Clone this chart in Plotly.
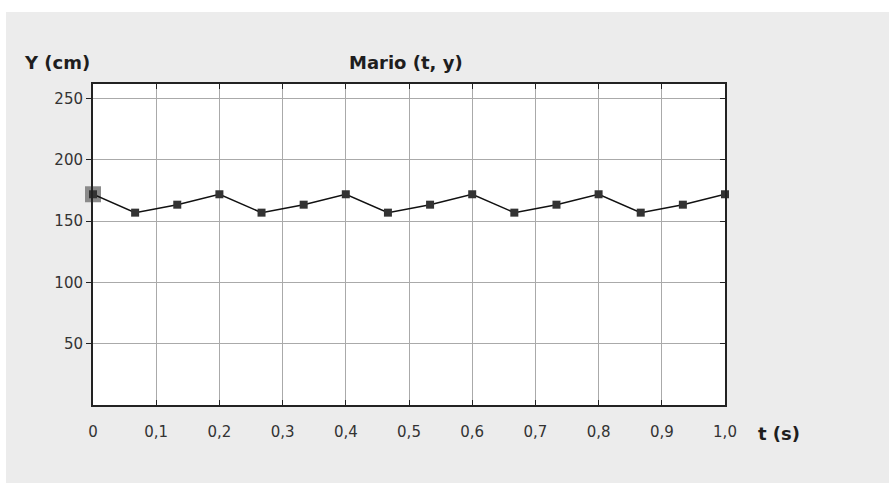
import plotly.graph_objects as go

t_values = [i / 15 for i in range(16)]
y_values = [172, 157, 163.5, 172, 157, 163.5, 172, 157, 163.5, 172, 157, 163.5, 172, 157, 163.5, 172]
x_tickvals = [0, 0.1, 0.2, 0.3, 0.4, 0.5, 0.6, 0.7, 0.8, 0.9, 1.0]
x_ticktext = ["0", "0,1", "0,2", "0,3", "0,4", "0,5", "0,6", "0,7", "0,8", "0,9", "1,0"]
y_tickvals = [50, 100, 150, 200, 250]
y_ticktext = ["50", "100", "150", "200", "250"]

W, H = 889, 483
L, R, T, B = 93, 164, 84, 78
pw = W - L - R
ph = H - T - B


def px(x):
    return (x - L) / pw


def py(y):
    return (H - B - y) / ph


fig = go.Figure()
fig.add_trace(go.Scatter(
    x=t_values[:1], y=y_values[:1], mode="markers", cliponaxis=False,
    marker=dict(symbol="square", size=16, color="#8a8a8a"),
    showlegend=False, hoverinfo="skip"))
fig.add_trace(go.Scatter(
    x=t_values, y=y_values, mode="lines+markers", cliponaxis=False,
    line=dict(color="#111111", width=1.5),
    marker=dict(symbol="square", size=8, color="#333333"),
    showlegend=False))
fig.add_trace(go.Scatter(x=[None], y=[None], yaxis="y2", showlegend=False))

tickfont = dict(family="DejaVu Sans", size=15, color="#333333")
labfont = dict(family="DejaVu Sans", size=18, color="#1e1e1e")
ann = dict(xref="paper", yref="paper", showarrow=False, font=labfont,
           xanchor="center", yanchor="middle")
fig.update_layout(
    width=W, height=H,
    margin=dict(l=L, r=R, t=T, b=B),
    paper_bgcolor="#ffffff", plot_bgcolor="#ffffff",
    xaxis=dict(range=[0, 1.0], tickvals=x_tickvals, ticktext=x_ticktext,
               showgrid=True, gridcolor="#aaaaaa", gridwidth=1,
               showline=True, linecolor="#222222", linewidth=2, mirror="ticks",
               ticks="inside", ticklen=5, tickcolor="#222222",
               tickfont=tickfont, ticklabelstandoff=12, zeroline=False),
    yaxis=dict(range=[0, 262], tickvals=y_tickvals, ticktext=y_ticktext,
               showgrid=True, gridcolor="#aaaaaa", gridwidth=1,
               showline=True, linecolor="#222222", linewidth=2, mirror=True,
               ticks="outside", ticklen=5, tickcolor="#222222",
               tickfont=tickfont, zeroline=False),
    yaxis2=dict(range=[0, 262], overlaying="y", side="right", tickvals=y_tickvals,
                showticklabels=False, showgrid=False, ticks="inside", ticklen=5,
                tickcolor="#222222", showline=True, linecolor="#222222", linewidth=2,
                zeroline=False),
    shapes=[
        dict(type="rect", xref="paper", yref="paper", layer="below",
             x0=px(6), x1=px(W + 5), y0=py(H + 5), y1=py(12),
             fillcolor="#ececec", line=dict(width=0)),
        dict(type="rect", xref="x", yref="y", layer="below",
             x0=0, x1=1.0, y0=0, y1=262,
             fillcolor="#ffffff", line=dict(width=0)),
    ],
    annotations=[
        dict(text="<b>Mario (t, y)</b>", x=px(406), y=py(62), **ann),
        dict(text="<b>Y (cm)</b>", x=px(57), y=py(62), **ann),
        dict(text="<b>t (s)</b>", x=px(779), y=py(433), **ann),
    ],
)

fig.write_html("out.html", config={"displayModeBar": False},
               post_script="document.body.style.margin='0';")
